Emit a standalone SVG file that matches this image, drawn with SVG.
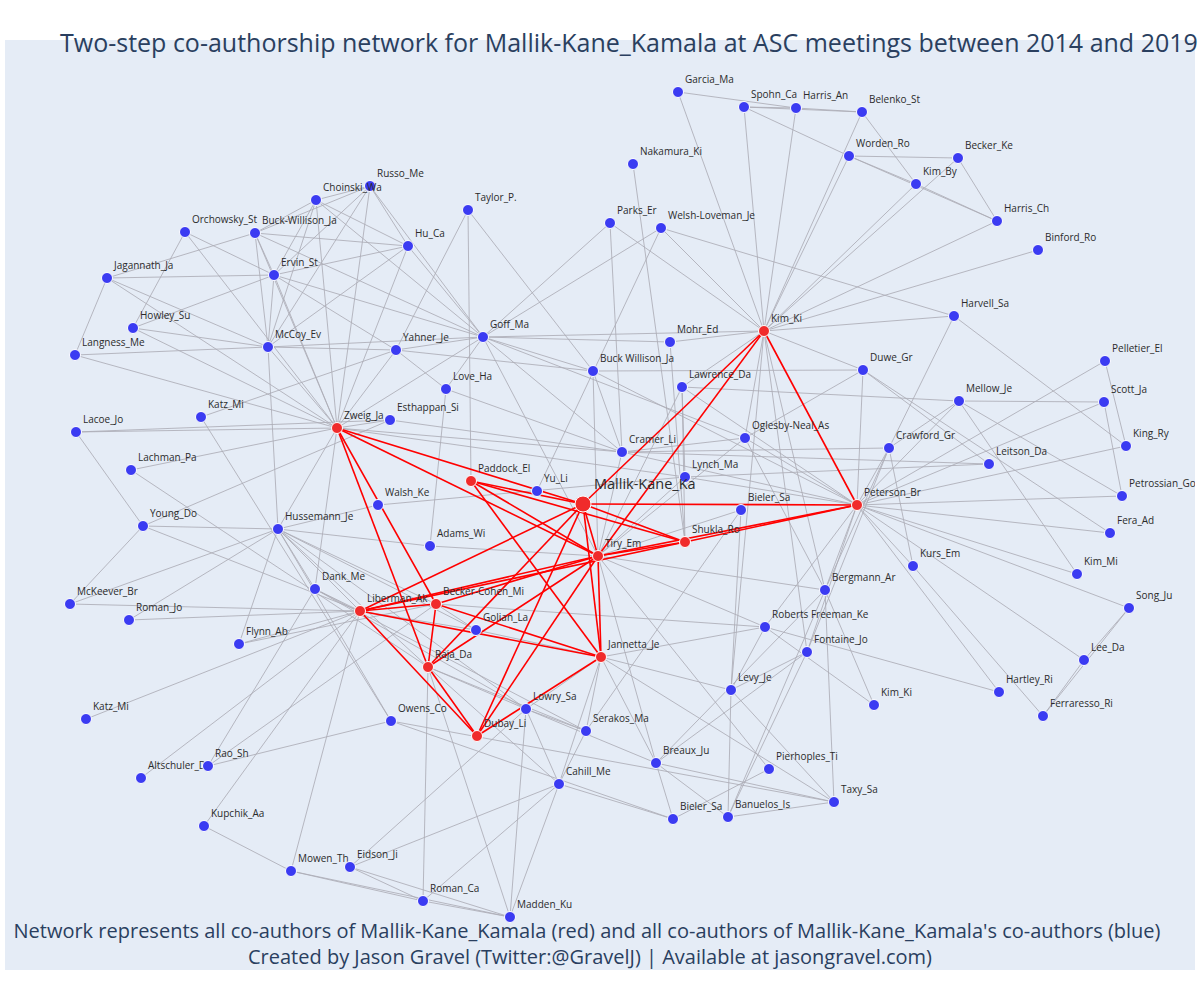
<svg xmlns="http://www.w3.org/2000/svg" width="1200" height="1000" viewBox="0 0 1200 1000">
<defs>
<clipPath id="plot"><rect x="5" y="40" width="1190" height="930"/></clipPath>
<style>
.e line{stroke:#acacb6;stroke-width:0.85}
.r line{stroke:#ff0000;stroke-width:1.6}
.b circle{fill:#3b3bf2;stroke:#ffffff;stroke-width:1}
.rd circle{fill:#f02b2b;stroke:#ffffff;stroke-width:1}
text.l{font-family:"Open Sans","DejaVu Sans",sans-serif;font-size:10px;fill:#2b2b2b}
text.big{font-family:"Open Sans","DejaVu Sans",sans-serif;font-size:14.5px;fill:#2b2b2b}
text.t{font-family:"Open Sans","DejaVu Sans",sans-serif;fill:#2a3f5f}
</style>
</defs>
<rect x="0" y="0" width="1200" height="1000" fill="#ffffff"/>
<rect x="5" y="40" width="1190" height="930" fill="#e5ecf6"/>
<g clip-path="url(#plot)">
<g id="connectors">
<g class="e">
<line x1="678" y1="92" x2="796" y2="108"/>
<line x1="678" y1="92" x2="764" y2="331"/>
<line x1="744" y1="107" x2="796" y2="108"/>
<line x1="744" y1="107" x2="862" y2="112"/>
<line x1="744" y1="107" x2="849" y2="156"/>
<line x1="744" y1="107" x2="764" y2="331"/>
<line x1="796" y1="108" x2="862" y2="112"/>
<line x1="796" y1="108" x2="764" y2="331"/>
<line x1="862" y1="112" x2="764" y2="331"/>
<line x1="862" y1="112" x2="916" y2="184"/>
<line x1="849" y1="156" x2="958" y2="158"/>
<line x1="849" y1="156" x2="916" y2="184"/>
<line x1="849" y1="156" x2="997" y2="221"/>
<line x1="849" y1="156" x2="764" y2="331"/>
<line x1="958" y1="158" x2="764" y2="331"/>
<line x1="958" y1="158" x2="997" y2="221"/>
<line x1="916" y1="184" x2="997" y2="221"/>
<line x1="916" y1="184" x2="764" y2="331"/>
<line x1="997" y1="221" x2="764" y2="331"/>
<line x1="1038" y1="250" x2="764" y2="331"/>
<line x1="954" y1="316" x2="764" y2="331"/>
<line x1="954" y1="316" x2="661" y2="228"/>
<line x1="954" y1="316" x2="889" y2="448"/>
<line x1="954" y1="316" x2="1126" y2="446"/>
<line x1="633" y1="164" x2="685" y2="542"/>
<line x1="610" y1="223" x2="622" y2="452"/>
<line x1="610" y1="223" x2="764" y2="331"/>
<line x1="610" y1="223" x2="483" y2="337"/>
<line x1="661" y1="228" x2="483" y2="337"/>
<line x1="661" y1="228" x2="537" y2="491"/>
<line x1="661" y1="228" x2="764" y2="331"/>
<line x1="670" y1="342" x2="764" y2="331"/>
<line x1="670" y1="342" x2="483" y2="337"/>
<line x1="670" y1="342" x2="685" y2="542"/>
<line x1="764" y1="331" x2="483" y2="337"/>
<line x1="764" y1="331" x2="863" y2="370"/>
<line x1="764" y1="331" x2="745" y2="438"/>
<line x1="764" y1="331" x2="731" y2="690"/>
<line x1="764" y1="331" x2="807" y2="652"/>
<line x1="764" y1="331" x2="825" y2="590"/>
<line x1="764" y1="331" x2="682" y2="387"/>
<line x1="185" y1="232" x2="274" y2="275"/>
<line x1="185" y1="232" x2="337" y2="428"/>
<line x1="185" y1="232" x2="133" y2="328"/>
<line x1="107" y1="278" x2="255" y2="233"/>
<line x1="107" y1="278" x2="274" y2="275"/>
<line x1="107" y1="278" x2="75" y2="355"/>
<line x1="107" y1="278" x2="268" y2="347"/>
<line x1="107" y1="278" x2="337" y2="428"/>
<line x1="133" y1="328" x2="274" y2="275"/>
<line x1="133" y1="328" x2="268" y2="347"/>
<line x1="133" y1="328" x2="337" y2="428"/>
<line x1="75" y1="355" x2="268" y2="347"/>
<line x1="75" y1="355" x2="337" y2="428"/>
<line x1="255" y1="233" x2="316" y2="200"/>
<line x1="255" y1="233" x2="370" y2="186"/>
<line x1="255" y1="233" x2="408" y2="246"/>
<line x1="255" y1="233" x2="274" y2="275"/>
<line x1="255" y1="233" x2="268" y2="347"/>
<line x1="255" y1="233" x2="337" y2="428"/>
<line x1="255" y1="233" x2="483" y2="337"/>
<line x1="316" y1="200" x2="370" y2="186"/>
<line x1="316" y1="200" x2="408" y2="246"/>
<line x1="316" y1="200" x2="274" y2="275"/>
<line x1="316" y1="200" x2="268" y2="347"/>
<line x1="316" y1="200" x2="337" y2="428"/>
<line x1="316" y1="200" x2="483" y2="337"/>
<line x1="370" y1="186" x2="408" y2="246"/>
<line x1="370" y1="186" x2="274" y2="275"/>
<line x1="370" y1="186" x2="268" y2="347"/>
<line x1="370" y1="186" x2="337" y2="428"/>
<line x1="370" y1="186" x2="483" y2="337"/>
<line x1="408" y1="246" x2="274" y2="275"/>
<line x1="408" y1="246" x2="268" y2="347"/>
<line x1="408" y1="246" x2="337" y2="428"/>
<line x1="408" y1="246" x2="483" y2="337"/>
<line x1="274" y1="275" x2="268" y2="347"/>
<line x1="274" y1="275" x2="337" y2="428"/>
<line x1="274" y1="275" x2="483" y2="337"/>
<line x1="274" y1="275" x2="396" y2="350"/>
<line x1="268" y1="347" x2="337" y2="428"/>
<line x1="268" y1="347" x2="483" y2="337"/>
<line x1="268" y1="347" x2="396" y2="350"/>
<line x1="468" y1="210" x2="471" y2="481"/>
<line x1="468" y1="210" x2="593" y2="371"/>
<line x1="468" y1="210" x2="396" y2="350"/>
<line x1="483" y1="337" x2="337" y2="428"/>
<line x1="483" y1="337" x2="396" y2="350"/>
<line x1="396" y1="350" x2="337" y2="428"/>
<line x1="396" y1="350" x2="201" y2="417"/>
<line x1="278" y1="529" x2="268" y2="347"/>
<line x1="483" y1="337" x2="593" y2="371"/>
<line x1="483" y1="337" x2="622" y2="452"/>
<line x1="483" y1="337" x2="598" y2="556"/>
<line x1="483" y1="337" x2="745" y2="438"/>
<line x1="396" y1="350" x2="593" y2="371"/>
<line x1="396" y1="350" x2="446" y2="389"/>
<line x1="76" y1="432" x2="337" y2="428"/>
<line x1="76" y1="432" x2="390" y2="420"/>
<line x1="76" y1="432" x2="143" y2="526"/>
<line x1="201" y1="417" x2="391" y2="721"/>
<line x1="131" y1="470" x2="337" y2="428"/>
<line x1="131" y1="470" x2="428" y2="667"/>
<line x1="143" y1="526" x2="278" y2="529"/>
<line x1="143" y1="526" x2="70" y2="604"/>
<line x1="143" y1="526" x2="390" y2="420"/>
<line x1="143" y1="526" x2="360" y2="611"/>
<line x1="70" y1="604" x2="360" y2="611"/>
<line x1="70" y1="604" x2="278" y2="529"/>
<line x1="129" y1="620" x2="278" y2="529"/>
<line x1="129" y1="620" x2="360" y2="611"/>
<line x1="239" y1="644" x2="278" y2="529"/>
<line x1="239" y1="644" x2="360" y2="611"/>
<line x1="239" y1="644" x2="436" y2="604"/>
<line x1="278" y1="529" x2="337" y2="428"/>
<line x1="278" y1="529" x2="378" y2="505"/>
<line x1="278" y1="529" x2="430" y2="546"/>
<line x1="278" y1="529" x2="436" y2="604"/>
<line x1="278" y1="529" x2="428" y2="667"/>
<line x1="278" y1="529" x2="360" y2="611"/>
<line x1="278" y1="529" x2="315" y2="589"/>
<line x1="278" y1="529" x2="526" y2="709"/>
<line x1="278" y1="529" x2="476" y2="630"/>
<line x1="278" y1="529" x2="391" y2="721"/>
<line x1="86" y1="719" x2="360" y2="611"/>
<line x1="141" y1="778" x2="360" y2="611"/>
<line x1="208" y1="766" x2="315" y2="589"/>
<line x1="208" y1="766" x2="436" y2="604"/>
<line x1="208" y1="766" x2="391" y2="721"/>
<line x1="204" y1="826" x2="360" y2="611"/>
<line x1="204" y1="826" x2="291" y2="871"/>
<line x1="291" y1="871" x2="360" y2="611"/>
<line x1="291" y1="871" x2="423" y2="901"/>
<line x1="291" y1="871" x2="510" y2="917"/>
<line x1="350" y1="867" x2="423" y2="901"/>
<line x1="350" y1="867" x2="510" y2="917"/>
<line x1="350" y1="867" x2="559" y2="784"/>
<line x1="350" y1="867" x2="526" y2="709"/>
<line x1="423" y1="901" x2="428" y2="667"/>
<line x1="423" y1="901" x2="559" y2="784"/>
<line x1="423" y1="901" x2="510" y2="917"/>
<line x1="510" y1="917" x2="428" y2="667"/>
<line x1="510" y1="917" x2="526" y2="709"/>
<line x1="510" y1="917" x2="559" y2="784"/>
<line x1="391" y1="721" x2="834" y2="802"/>
<line x1="391" y1="721" x2="673" y2="819"/>
<line x1="390" y1="420" x2="337" y2="428"/>
<line x1="390" y1="420" x2="622" y2="452"/>
<line x1="446" y1="389" x2="483" y2="337"/>
<line x1="446" y1="389" x2="430" y2="546"/>
<line x1="446" y1="389" x2="622" y2="452"/>
<line x1="378" y1="505" x2="685" y2="477"/>
<line x1="315" y1="589" x2="337" y2="428"/>
<line x1="315" y1="589" x2="360" y2="611"/>
<line x1="315" y1="589" x2="526" y2="709"/>
<line x1="315" y1="589" x2="586" y2="731"/>
<line x1="476" y1="630" x2="436" y2="604"/>
<line x1="476" y1="630" x2="601" y2="657"/>
<line x1="476" y1="630" x2="360" y2="611"/>
<line x1="430" y1="546" x2="598" y2="556"/>
<line x1="337" y1="428" x2="622" y2="452"/>
<line x1="337" y1="428" x2="685" y2="477"/>
<line x1="593" y1="371" x2="622" y2="452"/>
<line x1="593" y1="371" x2="598" y2="556"/>
<line x1="593" y1="371" x2="857" y2="505"/>
<line x1="593" y1="371" x2="863" y2="370"/>
<line x1="682" y1="387" x2="685" y2="477"/>
<line x1="682" y1="387" x2="685" y2="542"/>
<line x1="682" y1="387" x2="959" y2="401"/>
<line x1="682" y1="387" x2="857" y2="505"/>
<line x1="682" y1="387" x2="598" y2="556"/>
<line x1="745" y1="438" x2="857" y2="505"/>
<line x1="745" y1="438" x2="598" y2="556"/>
<line x1="745" y1="438" x2="622" y2="452"/>
<line x1="745" y1="438" x2="825" y2="590"/>
<line x1="745" y1="438" x2="863" y2="370"/>
<line x1="622" y1="452" x2="889" y2="448"/>
<line x1="622" y1="452" x2="857" y2="505"/>
<line x1="622" y1="452" x2="598" y2="556"/>
<line x1="622" y1="452" x2="989" y2="464"/>
<line x1="685" y1="477" x2="857" y2="505"/>
<line x1="685" y1="477" x2="989" y2="464"/>
<line x1="685" y1="477" x2="598" y2="556"/>
<line x1="741" y1="510" x2="731" y2="690"/>
<line x1="741" y1="510" x2="598" y2="556"/>
<line x1="741" y1="510" x2="586" y2="731"/>
<line x1="863" y1="370" x2="857" y2="505"/>
<line x1="863" y1="370" x2="1110" y2="533"/>
<line x1="863" y1="370" x2="989" y2="464"/>
<line x1="889" y1="448" x2="857" y2="505"/>
<line x1="889" y1="448" x2="913" y2="566"/>
<line x1="889" y1="448" x2="825" y2="590"/>
<line x1="889" y1="448" x2="807" y2="652"/>
<line x1="825" y1="590" x2="857" y2="505"/>
<line x1="825" y1="590" x2="834" y2="802"/>
<line x1="825" y1="590" x2="874" y2="705"/>
<line x1="825" y1="590" x2="656" y2="763"/>
<line x1="825" y1="590" x2="728" y2="817"/>
<line x1="825" y1="590" x2="598" y2="556"/>
<line x1="765" y1="627" x2="598" y2="556"/>
<line x1="765" y1="627" x2="601" y2="657"/>
<line x1="765" y1="627" x2="857" y2="505"/>
<line x1="765" y1="627" x2="874" y2="705"/>
<line x1="765" y1="627" x2="999" y2="692"/>
<line x1="765" y1="627" x2="436" y2="604"/>
<line x1="807" y1="652" x2="857" y2="505"/>
<line x1="807" y1="652" x2="731" y2="690"/>
<line x1="807" y1="652" x2="656" y2="763"/>
<line x1="807" y1="652" x2="728" y2="817"/>
<line x1="857" y1="505" x2="959" y2="401"/>
<line x1="857" y1="505" x2="1105" y2="361"/>
<line x1="857" y1="505" x2="1104" y2="402"/>
<line x1="857" y1="505" x2="1126" y2="446"/>
<line x1="857" y1="505" x2="1122" y2="496"/>
<line x1="857" y1="505" x2="1110" y2="533"/>
<line x1="857" y1="505" x2="1077" y2="574"/>
<line x1="857" y1="505" x2="1129" y2="608"/>
<line x1="857" y1="505" x2="1084" y2="660"/>
<line x1="857" y1="505" x2="913" y2="566"/>
<line x1="857" y1="505" x2="999" y2="692"/>
<line x1="959" y1="401" x2="1104" y2="402"/>
<line x1="959" y1="401" x2="1122" y2="496"/>
<line x1="959" y1="401" x2="1077" y2="574"/>
<line x1="959" y1="401" x2="889" y2="448"/>
<line x1="1104" y1="402" x2="1122" y2="496"/>
<line x1="1105" y1="361" x2="1126" y2="446"/>
<line x1="1129" y1="608" x2="1084" y2="660"/>
<line x1="1129" y1="608" x2="1043" y2="716"/>
<line x1="1084" y1="660" x2="1043" y2="716"/>
<line x1="913" y1="566" x2="1043" y2="716"/>
<line x1="428" y1="667" x2="526" y2="709"/>
<line x1="428" y1="667" x2="586" y2="731"/>
<line x1="428" y1="667" x2="559" y2="784"/>
<line x1="526" y1="709" x2="586" y2="731"/>
<line x1="526" y1="709" x2="559" y2="784"/>
<line x1="586" y1="731" x2="559" y2="784"/>
<line x1="586" y1="731" x2="601" y2="657"/>
<line x1="559" y1="784" x2="601" y2="657"/>
<line x1="559" y1="784" x2="673" y2="819"/>
<line x1="731" y1="690" x2="601" y2="657"/>
<line x1="731" y1="690" x2="728" y2="817"/>
<line x1="731" y1="690" x2="834" y2="802"/>
<line x1="731" y1="690" x2="765" y2="627"/>
<line x1="656" y1="763" x2="526" y2="709"/>
<line x1="656" y1="763" x2="598" y2="556"/>
<line x1="656" y1="763" x2="601" y2="657"/>
<line x1="656" y1="763" x2="834" y2="802"/>
<line x1="656" y1="763" x2="673" y2="819"/>
<line x1="656" y1="763" x2="728" y2="817"/>
<line x1="769" y1="769" x2="673" y2="819"/>
<line x1="769" y1="769" x2="598" y2="556"/>
<line x1="834" y1="802" x2="728" y2="817"/>
<line x1="834" y1="802" x2="601" y2="657"/>
<line x1="526" y1="709" x2="601" y2="657"/>
</g>
<g class="r">
<line x1="583" y1="504" x2="471" y2="481"/>
<line x1="583" y1="504" x2="598" y2="556"/>
<line x1="583" y1="504" x2="685" y2="542"/>
<line x1="583" y1="504" x2="764" y2="331"/>
<line x1="583" y1="504" x2="857" y2="505"/>
<line x1="583" y1="504" x2="337" y2="428"/>
<line x1="583" y1="504" x2="360" y2="611"/>
<line x1="583" y1="504" x2="601" y2="657"/>
<line x1="583" y1="504" x2="477" y2="736"/>
<line x1="583" y1="504" x2="428" y2="667"/>
<line x1="471" y1="481" x2="598" y2="556"/>
<line x1="471" y1="481" x2="685" y2="542"/>
<line x1="471" y1="481" x2="601" y2="657"/>
<line x1="598" y1="556" x2="685" y2="542"/>
<line x1="598" y1="556" x2="857" y2="505"/>
<line x1="598" y1="556" x2="764" y2="331"/>
<line x1="598" y1="556" x2="337" y2="428"/>
<line x1="598" y1="556" x2="360" y2="611"/>
<line x1="598" y1="556" x2="436" y2="604"/>
<line x1="598" y1="556" x2="428" y2="667"/>
<line x1="598" y1="556" x2="601" y2="657"/>
<line x1="598" y1="556" x2="477" y2="736"/>
<line x1="685" y1="542" x2="857" y2="505"/>
<line x1="685" y1="542" x2="360" y2="611"/>
<line x1="764" y1="331" x2="857" y2="505"/>
<line x1="337" y1="428" x2="436" y2="604"/>
<line x1="337" y1="428" x2="428" y2="667"/>
<line x1="360" y1="611" x2="436" y2="604"/>
<line x1="360" y1="611" x2="601" y2="657"/>
<line x1="360" y1="611" x2="477" y2="736"/>
<line x1="436" y1="604" x2="428" y2="667"/>
<line x1="436" y1="604" x2="601" y2="657"/>
<line x1="428" y1="667" x2="477" y2="736"/>
<line x1="601" y1="657" x2="477" y2="736"/>
</g>
</g>
<g id="nodes">
<g id="n-garcia-ma" class="b"><circle cx="678" cy="92" r="5.5"/><text class="l" x="685" y="83">Garcia_Ma</text></g>
<g id="n-spohn-ca" class="b"><circle cx="744" cy="107" r="5.5"/><text class="l" x="751" y="98">Spohn_Ca</text></g>
<g id="n-harris-an" class="b"><circle cx="796" cy="108" r="5.5"/><text class="l" x="803" y="99">Harris_An</text></g>
<g id="n-belenko-st" class="b"><circle cx="862" cy="112" r="5.5"/><text class="l" x="869" y="103">Belenko_St</text></g>
<g id="n-worden-ro" class="b"><circle cx="849" cy="156" r="5.5"/><text class="l" x="856" y="147">Worden_Ro</text></g>
<g id="n-becker-ke" class="b"><circle cx="958" cy="158" r="5.5"/><text class="l" x="965" y="149">Becker_Ke</text></g>
<g id="n-kim-by" class="b"><circle cx="916" cy="184" r="5.5"/><text class="l" x="923" y="175">Kim_By</text></g>
<g id="n-harris-ch" class="b"><circle cx="997" cy="221" r="5.5"/><text class="l" x="1004" y="212">Harris_Ch</text></g>
<g id="n-binford-ro" class="b"><circle cx="1038" cy="250" r="5.5"/><text class="l" x="1045" y="241">Binford_Ro</text></g>
<g id="n-harvell-sa" class="b"><circle cx="954" cy="316" r="5.5"/><text class="l" x="961" y="307">Harvell_Sa</text></g>
<g id="n-nakamura-ki" class="b"><circle cx="633" cy="164" r="5.5"/><text class="l" x="640" y="155">Nakamura_Ki</text></g>
<g id="n-parks-er" class="b"><circle cx="610" cy="223" r="5.5"/><text class="l" x="617" y="214">Parks_Er</text></g>
<g id="n-welsh-loveman-je" class="b"><circle cx="661" cy="228" r="5.5"/><text class="l" x="668" y="219">Welsh-Loveman_Je</text></g>
<g id="n-mohr-ed" class="b"><circle cx="670" cy="342" r="5.5"/><text class="l" x="677" y="333">Mohr_Ed</text></g>
<g id="n-taylor-p" class="b"><circle cx="468" cy="210" r="5.5"/><text class="l" x="475" y="201">Taylor_P.</text></g>
<g id="n-russo-me" class="b"><circle cx="370" cy="186" r="5.5"/><text class="l" x="377" y="177">Russo_Me</text></g>
<g id="n-choinski-wa" class="b"><circle cx="316" cy="200" r="5.5"/><text class="l" x="323" y="191">Choinski_Wa</text></g>
<g id="n-hu-ca" class="b"><circle cx="408" cy="246" r="5.5"/><text class="l" x="415" y="237">Hu_Ca</text></g>
<g id="n-goff-ma" class="b"><circle cx="483" cy="337" r="5.5"/><text class="l" x="490" y="328">Goff_Ma</text></g>
<g id="n-yahner-je" class="b"><circle cx="396" cy="350" r="5.5"/><text class="l" x="403" y="341">Yahner_Je</text></g>
<g id="n-orchowsky-st" class="b"><circle cx="185" cy="232" r="5.5"/><text class="l" x="192" y="223">Orchowsky_St</text></g>
<g id="n-buck-willison-ja" class="b"><circle cx="255" cy="233" r="5.5"/><text class="l" x="262" y="224">Buck-Willison_Ja</text></g>
<g id="n-ervin-st" class="b"><circle cx="274" cy="275" r="5.5"/><text class="l" x="281" y="266">Ervin_St</text></g>
<g id="n-jagannath-ja" class="b"><circle cx="107" cy="278" r="5.5"/><text class="l" x="114" y="269">Jagannath_Ja</text></g>
<g id="n-howley-su" class="b"><circle cx="133" cy="328" r="5.5"/><text class="l" x="140" y="319">Howley_Su</text></g>
<g id="n-mccoy-ev" class="b"><circle cx="268" cy="347" r="5.5"/><text class="l" x="275" y="338">McCoy_Ev</text></g>
<g id="n-langness-me" class="b"><circle cx="75" cy="355" r="5.5"/><text class="l" x="82" y="346">Langness_Me</text></g>
<g id="n-lacoe-jo" class="b"><circle cx="76" cy="432" r="5.5"/><text class="l" x="83" y="423">Lacoe_Jo</text></g>
<g id="n-katz-mi-1" class="b"><circle cx="201" cy="417" r="5.5"/><text class="l" x="208" y="408">Katz_Mi</text></g>
<g id="n-lachman-pa" class="b"><circle cx="131" cy="470" r="5.5"/><text class="l" x="138" y="461">Lachman_Pa</text></g>
<g id="n-young-do" class="b"><circle cx="143" cy="526" r="5.5"/><text class="l" x="150" y="517">Young_Do</text></g>
<g id="n-hussemann-je" class="b"><circle cx="278" cy="529" r="5.5"/><text class="l" x="285" y="520">Hussemann_Je</text></g>
<g id="n-mckeever-br" class="b"><circle cx="70" cy="604" r="5.5"/><text class="l" x="77" y="595">McKeever_Br</text></g>
<g id="n-roman-jo" class="b"><circle cx="129" cy="620" r="5.5"/><text class="l" x="136" y="611">Roman_Jo</text></g>
<g id="n-flynn-ab" class="b"><circle cx="239" cy="644" r="5.5"/><text class="l" x="246" y="635">Flynn_Ab</text></g>
<g id="n-esthappan-si" class="b"><circle cx="390" cy="420" r="5.5"/><text class="l" x="397" y="411">Esthappan_Si</text></g>
<g id="n-love-ha" class="b"><circle cx="446" cy="389" r="5.5"/><text class="l" x="453" y="380">Love_Ha</text></g>
<g id="n-yu-li" class="b"><circle cx="537" cy="491" r="5.5"/><text class="l" x="544" y="482">Yu_Li</text></g>
<g id="n-walsh-ke" class="b"><circle cx="378" cy="505" r="5.5"/><text class="l" x="385" y="496">Walsh_Ke</text></g>
<g id="n-adams-wi" class="b"><circle cx="430" cy="546" r="5.5"/><text class="l" x="437" y="537">Adams_Wi</text></g>
<g id="n-dank-me" class="b"><circle cx="315" cy="589" r="5.5"/><text class="l" x="322" y="580">Dank_Me</text></g>
<g id="n-golian-la" class="b"><circle cx="476" cy="630" r="5.5"/><text class="l" x="483" y="621">Golian_La</text></g>
<g id="n-buck-willison-ja-2" class="b"><circle cx="593" cy="371" r="5.5"/><text class="l" x="600" y="362">Buck Willison_Ja</text></g>
<g id="n-lawrence-da" class="b"><circle cx="682" cy="387" r="5.5"/><text class="l" x="689" y="378">Lawrence_Da</text></g>
<g id="n-duwe-gr" class="b"><circle cx="863" cy="370" r="5.5"/><text class="l" x="870" y="361">Duwe_Gr</text></g>
<g id="n-oglesby-neal-as" class="b"><circle cx="745" cy="438" r="5.5"/><text class="l" x="752" y="429">Oglesby-Neal_As</text></g>
<g id="n-cramer-li" class="b"><circle cx="622" cy="452" r="5.5"/><text class="l" x="629" y="443">Cramer_Li</text></g>
<g id="n-lynch-ma" class="b"><circle cx="685" cy="477" r="5.5"/><text class="l" x="692" y="468">Lynch_Ma</text></g>
<g id="n-crawford-gr" class="b"><circle cx="889" cy="448" r="5.5"/><text class="l" x="896" y="439">Crawford_Gr</text></g>
<g id="n-bieler-sa-1" class="b"><circle cx="741" cy="510" r="5.5"/><text class="l" x="748" y="501">Bieler_Sa</text></g>
<g id="n-bergmann-ar" class="b"><circle cx="825" cy="590" r="5.5"/><text class="l" x="832" y="581">Bergmann_Ar</text></g>
<g id="n-roberts-freeman-ke" class="b"><circle cx="765" cy="627" r="5.5"/><text class="l" x="772" y="618">Roberts Freeman_Ke</text></g>
<g id="n-fontaine-jo" class="b"><circle cx="807" cy="652" r="5.5"/><text class="l" x="814" y="643">Fontaine_Jo</text></g>
<g id="n-pelletier-el" class="b"><circle cx="1105" cy="361" r="5.5"/><text class="l" x="1112" y="352">Pelletier_El</text></g>
<g id="n-mellow-je" class="b"><circle cx="959" cy="401" r="5.5"/><text class="l" x="966" y="392">Mellow_Je</text></g>
<g id="n-scott-ja" class="b"><circle cx="1104" cy="402" r="5.5"/><text class="l" x="1111" y="393">Scott_Ja</text></g>
<g id="n-king-ry" class="b"><circle cx="1126" cy="446" r="5.5"/><text class="l" x="1133" y="437">King_Ry</text></g>
<g id="n-leitson-da" class="b"><circle cx="989" cy="464" r="5.5"/><text class="l" x="996" y="455">Leitson_Da</text></g>
<g id="n-petrossian-go" class="b"><circle cx="1122" cy="496" r="5.5"/><text class="l" x="1129" y="487">Petrossian_Go</text></g>
<g id="n-fera-ad" class="b"><circle cx="1110" cy="533" r="5.5"/><text class="l" x="1117" y="524">Fera_Ad</text></g>
<g id="n-kurs-em" class="b"><circle cx="913" cy="566" r="5.5"/><text class="l" x="920" y="557">Kurs_Em</text></g>
<g id="n-kim-mi" class="b"><circle cx="1077" cy="574" r="5.5"/><text class="l" x="1084" y="565">Kim_Mi</text></g>
<g id="n-song-ju" class="b"><circle cx="1129" cy="608" r="5.5"/><text class="l" x="1136" y="599">Song_Ju</text></g>
<g id="n-lee-da" class="b"><circle cx="1084" cy="660" r="5.5"/><text class="l" x="1091" y="651">Lee_Da</text></g>
<g id="n-katz-mi-2" class="b"><circle cx="86" cy="719" r="5.5"/><text class="l" x="93" y="710">Katz_Mi</text></g>
<g id="n-altschuler-da" class="b"><circle cx="141" cy="778" r="5.5"/><text class="l" x="148" y="769">Altschuler_Da</text></g>
<g id="n-rao-sh" class="b"><circle cx="208" cy="766" r="5.5"/><text class="l" x="215" y="757">Rao_Sh</text></g>
<g id="n-kupchik-aa" class="b"><circle cx="204" cy="826" r="5.5"/><text class="l" x="211" y="817">Kupchik_Aa</text></g>
<g id="n-mowen-th" class="b"><circle cx="291" cy="871" r="5.5"/><text class="l" x="298" y="862">Mowen_Th</text></g>
<g id="n-owens-co" class="b"><circle cx="391" cy="721" r="5.5"/><text class="l" x="398" y="712">Owens_Co</text></g>
<g id="n-lowry-sa" class="b"><circle cx="526" cy="709" r="5.5"/><text class="l" x="533" y="700">Lowry_Sa</text></g>
<g id="n-serakos-ma" class="b"><circle cx="586" cy="731" r="5.5"/><text class="l" x="593" y="722">Serakos_Ma</text></g>
<g id="n-cahill-me" class="b"><circle cx="559" cy="784" r="5.5"/><text class="l" x="566" y="775">Cahill_Me</text></g>
<g id="n-eidson-ji" class="b"><circle cx="350" cy="867" r="5.5"/><text class="l" x="357" y="858">Eidson_Ji</text></g>
<g id="n-roman-ca" class="b"><circle cx="423" cy="901" r="5.5"/><text class="l" x="430" y="892">Roman_Ca</text></g>
<g id="n-madden-ku" class="b"><circle cx="510" cy="917" r="5.5"/><text class="l" x="517" y="908">Madden_Ku</text></g>
<g id="n-levy-je" class="b"><circle cx="731" cy="690" r="5.5"/><text class="l" x="738" y="681">Levy_Je</text></g>
<g id="n-kim-ki-2" class="b"><circle cx="874" cy="705" r="5.5"/><text class="l" x="881" y="696">Kim_Ki</text></g>
<g id="n-breaux-ju" class="b"><circle cx="656" cy="763" r="5.5"/><text class="l" x="663" y="754">Breaux_Ju</text></g>
<g id="n-pierhoples-ti" class="b"><circle cx="769" cy="769" r="5.5"/><text class="l" x="776" y="760">Pierhoples_Ti</text></g>
<g id="n-taxy-sa" class="b"><circle cx="834" cy="802" r="5.5"/><text class="l" x="841" y="793">Taxy_Sa</text></g>
<g id="n-bieler-sa-2" class="b"><circle cx="673" cy="819" r="5.5"/><text class="l" x="680" y="810">Bieler_Sa</text></g>
<g id="n-banuelos-is" class="b"><circle cx="728" cy="817" r="5.5"/><text class="l" x="735" y="808">Banuelos_Is</text></g>
<g id="n-hartley-ri" class="b"><circle cx="999" cy="692" r="5.5"/><text class="l" x="1006" y="683">Hartley_Ri</text></g>
<g id="n-ferraresso-ri" class="b"><circle cx="1043" cy="716" r="5.5"/><text class="l" x="1050" y="707">Ferraresso_Ri</text></g>
<g id="n-zweig-ja" class="rd"><circle cx="337" cy="428" r="5.5"/><text class="l" x="344" y="419">Zweig_Ja</text></g>
<g id="n-paddock-el" class="rd"><circle cx="471" cy="481" r="5.5"/><text class="l" x="478" y="472">Paddock_El</text></g>
<g id="n-tiry-em" class="rd"><circle cx="598" cy="556" r="5.5"/><text class="l" x="605" y="547">Tiry_Em</text></g>
<g id="n-shukla-ro" class="rd"><circle cx="685" cy="542" r="5.5"/><text class="l" x="692" y="533">Shukla_Ro</text></g>
<g id="n-kim-ki" class="rd"><circle cx="764" cy="331" r="5.5"/><text class="l" x="771" y="322">Kim_Ki</text></g>
<g id="n-peterson-br" class="rd"><circle cx="857" cy="505" r="5.5"/><text class="l" x="864" y="496">Peterson_Br</text></g>
<g id="n-liberman-ak" class="rd"><circle cx="360" cy="611" r="5.5"/><text class="l" x="367" y="602">Liberman_Ak</text></g>
<g id="n-becker-cohen-mi" class="rd"><circle cx="436" cy="604" r="5.5"/><text class="l" x="443" y="595">Becker-Cohen_Mi</text></g>
<g id="n-raja-da" class="rd"><circle cx="428" cy="667" r="5.5"/><text class="l" x="435" y="658">Raja_Da</text></g>
<g id="n-jannetta-je" class="rd"><circle cx="601" cy="657" r="5.5"/><text class="l" x="608" y="648">Jannetta_Je</text></g>
<g id="n-dubay-li" class="rd"><circle cx="477" cy="736" r="5.5"/><text class="l" x="484" y="727">Dubay_Li</text></g>
<g id="n-mallik-kane-ka" class="rd"><circle cx="583" cy="504" r="8"/><text class="big" x="594" y="489">Mallik-Kane_Ka</text></g>
</g>
</g>
<text class="t" x="60" y="52" font-size="25">Two-step co-authorship network for Mallik-Kane_Kamala at ASC meetings between 2014 and 2019</text>
<text class="t" x="587" y="938" font-size="20" text-anchor="middle">Network represents all co-authors of Mallik-Kane_Kamala (red) and all co-authors of Mallik-Kane_Kamala's co-authors (blue)</text>
<text class="t" x="590" y="964" font-size="20" text-anchor="middle">Created by Jason Gravel (Twitter:@GravelJ) | Available at jasongravel.com)</text>
</svg>
